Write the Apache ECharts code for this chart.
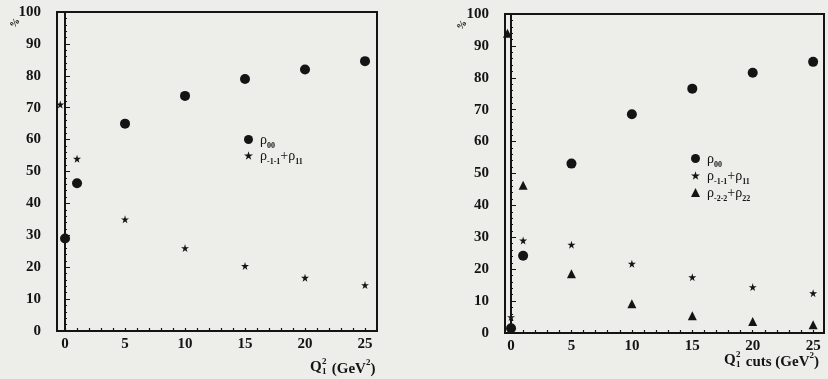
<!DOCTYPE html>
<html>
<head>
<meta charset="utf-8">
<script src="https://cdn.jsdelivr.net/npm/echarts@6/dist/echarts.min.js"></script>
<style>
  html, body { margin: 0; padding: 0; background: #ededea; }
  #chart { width: 828px; height: 379px; }
</style>
</head>
<body>
<div id="chart"></div>
<script>
// Spin density matrix elements (%) versus the Q1^2 cut
const xTicks = [0, 5, 10, 15, 20, 25];
const yTicks = [0, 10, 20, 30, 40, 50, 60, 70, 80, 90, 100];

// Left panel: Q1^2 (GeV^2)
const leftRho00X = [0, 1, 5, 10, 15, 20, 25];
const leftRho00 = [29, 46.3, 65, 73.7, 79, 82, 84.6];
const leftRho11X = [-0.4, 1, 5, 10, 15, 20, 25];
const leftRho11 = [71, 54, 35, 26, 20.4, 16.7, 14.4];

// Right panel: Q1^2 cuts (GeV^2)
const rightRho00X = [0, 1, 5, 10, 15, 20, 25];
const rightRho00 = [1.5, 24.2, 53.1, 68.6, 76.6, 81.6, 85];
const rightRho11X = [0, 1, 5, 10, 15, 20, 25];
const rightRho11 = [5, 29, 27.7, 21.7, 17.5, 14.4, 12.5];
const rightRho22X = [-0.3, 1, 5, 10, 15, 20, 25];
const rightRho22 = [94, 46.3, 18.6, 9.2, 5.4, 3.6, 2.6];

const NAME00 = 'ρ00';
const NAME11 = 'ρ-1-1+ρ11';
const NAME22 = 'ρ-2-2+ρ22';

const STAR = 'path://M50,0 L61,35 L98,35 L68,57 L79,91 L50,70 L21,91 L32,57 L2,35 L39,35 Z';
const INK = '#141414';
const FONT = '"Liberation Serif", "DejaVu Serif", serif';

const pairs = (xs, ys) => xs.map((x, i) => [x, ys[i]]);
const intTicks = [];
for (let v = 0; v <= 25; v++) intTicks.push(v);

function xAxisFor(gridIndex, min, max) {
  return {
    type: 'value', gridIndex, min, max,
    axisLine: { show: true, lineStyle: { color: INK, width: 2 } },
    axisTick: { show: true, inside: true, length: 3, customValues: intTicks, lineStyle: { color: INK, width: 1.2 } },
    axisLabel: { customValues: xTicks, color: INK, fontFamily: FONT, fontWeight: 'bold', fontSize: 15, margin: 6 },
    splitLine: { show: false }
  };
}
function yAxisFor(gridIndex) {
  return {
    type: 'value', gridIndex, min: 0, max: 100, interval: 10,
    axisLine: { show: true, lineStyle: { color: INK, width: 2 } },
    axisTick: { show: true, inside: true, length: 5, lineStyle: { color: INK, width: 1 } },
    minorTick: { show: true, splitNumber: 5, length: 2, lineStyle: { color: INK, width: 1 } },
    axisLabel: { color: INK, fontFamily: FONT, fontWeight: 'bold', fontSize: 15, margin: 16 },
    splitLine: { show: false }
  };
}

const rich = {
  r: { fontFamily: FONT, fontSize: 14, color: INK, lineHeight: 15, verticalAlign: 'bottom' },
  s: { fontFamily: FONT, fontSize: 8, fontWeight: 'bold', color: INK, lineHeight: 9, verticalAlign: 'bottom', padding: [0, 0, -3, 0] }
};
function legendLabel(name) {
  if (name === NAME00) return '{r|ρ}{s|00}';
  if (name === NAME11) return '{r|ρ}{s|-1-1}{r|+ρ}{s|11}';
  return '{r|ρ}{s|-2-2}{r|+ρ}{s|22}';
}

// Axis title "Q" with stacked 2 / 1 indices, followed by the rest of the title
function axisTitle(x, y, rest) {
  return {
    type: 'group', x, y,
    children: [
      { type: 'text', x: 0, y: 0, style: { text: 'Q', font: 'bold 15px ' + FONT, fill: INK } },
      { type: 'text', x: 12, y: -3, style: { text: '2', font: 'bold 9px ' + FONT, fill: INK } },
      { type: 'text', x: 12, y: 7, style: { text: '1', font: 'bold 9px ' + FONT, fill: INK } },
      {
        type: 'text', x: 18, y: -2,
        style: {
          text: '{t|' + rest + '(GeV}{u|2}{t|)}', fill: INK,
          rich: {
            t: { font: 'bold 15px ' + FONT, fill: INK, lineHeight: 19, verticalAlign: 'bottom' },
            u: { font: 'bold 9px ' + FONT, fill: INK, lineHeight: 19, verticalAlign: 'top' }
          }
        }
      }
    ]
  };
}

function dots(name, data, xi, symbol, size) {
  return {
    name, type: 'scatter', xAxisIndex: xi, yAxisIndex: xi,
    data, symbol, symbolSize: size,
    itemStyle: { color: INK, opacity: 1 },
    emphasis: { disabled: true }
  };
}

const chart = echarts.init(document.getElementById('chart'), null, { renderer: 'canvas' });
chart.setOption({
  backgroundColor: '#ededea',
  animation: false,
  grid: [
    { left: 57, top: 12, width: 320, height: 319, show: true, borderColor: INK, borderWidth: 2, backgroundColor: 'transparent' },
    { left: 505, top: 14, width: 319, height: 319, show: true, borderColor: INK, borderWidth: 2, backgroundColor: 'transparent' }
  ],
  xAxis: [xAxisFor(0, -0.67, 26), xAxisFor(1, -0.5, 25.9)],
  yAxis: [yAxisFor(0), yAxisFor(1)],
  legend: [
    {
      left: 239, top: 128, orient: 'vertical', itemWidth: 9, itemHeight: 9, itemGap: -1,
      data: [{ name: NAME00, icon: 'circle' }, { name: NAME11, icon: STAR }],
      formatter: legendLabel, textStyle: { rich, padding: [0, 0, 0, 2] }, selectedMode: false
    },
    {
      left: 686, top: 147, orient: 'vertical', itemWidth: 9, itemHeight: 9, itemGap: 0,
      data: [{ name: NAME00, icon: 'circle' }, { name: NAME11, icon: STAR }, { name: NAME22, icon: 'triangle' }],
      formatter: legendLabel, textStyle: { rich, padding: [0, 0, 0, 2] }, selectedMode: false
    }
  ],
  graphic: [
    axisTitle(310, 360, ' '),
    axisTitle(724, 353, ' cuts '),
    { type: 'text', x: 8, y: 24, rotation: 0.9, style: { text: '%', font: 'bold 10px ' + FONT, fill: INK } },
    { type: 'text', x: 455, y: 26, rotation: 0.9, style: { text: '%', font: 'bold 10px ' + FONT, fill: INK } }
  ],
  series: [
    dots(NAME00, pairs(leftRho00X, leftRho00), 0, 'circle', 10),
    dots(NAME11, pairs(leftRho11X, leftRho11), 0, STAR, 8),
    dots(NAME00, pairs(rightRho00X, rightRho00), 1, 'circle', 10),
    dots(NAME11, pairs(rightRho11X, rightRho11), 1, STAR, 8),
    dots(NAME22, pairs(rightRho22X, rightRho22), 1, 'triangle', 9)
  ]
});
</script>
</body>
</html>
